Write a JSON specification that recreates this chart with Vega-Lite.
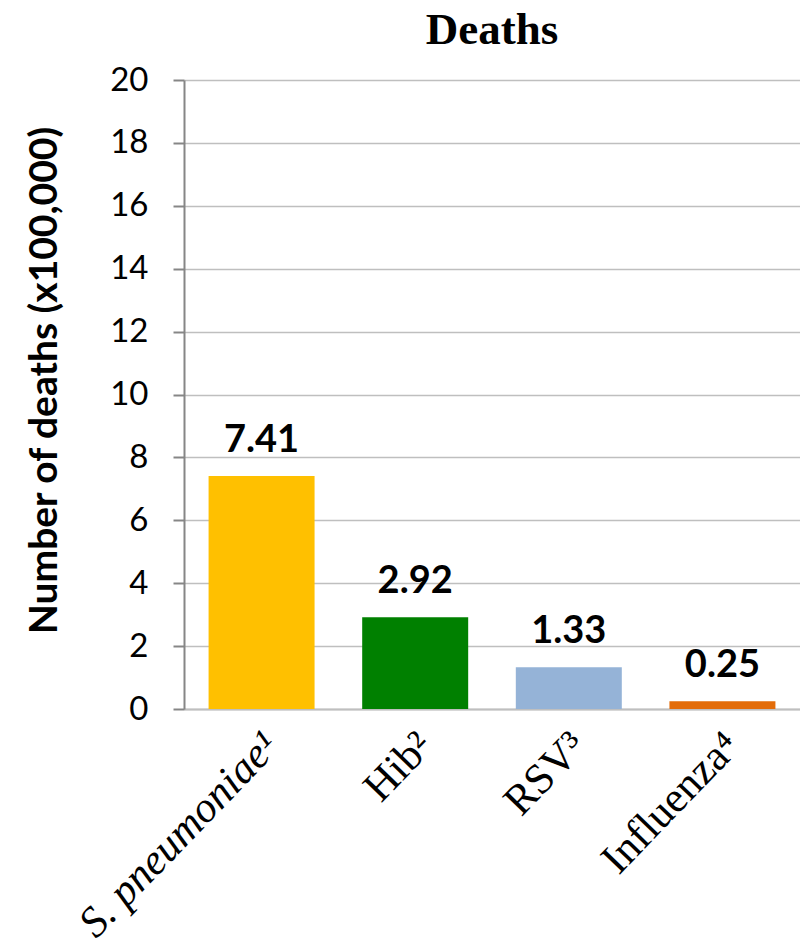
{
  "$schema": "https://vega.github.io/schema/vega-lite/v6.json",
  "autosize": {"type": "none"},
  "padding": {"left": 184, "top": 80, "right": 0, "bottom": 237},
  "width": 616,
  "height": 629,
  "background": "white",
  "title": {
    "text": "Deaths",
    "font": "Liberation Serif",
    "fontSize": 45,
    "fontWeight": "bold",
    "color": "black",
    "anchor": "middle",
    "offset": 11
  },
  "data": {
    "values": [
      {"pathogen": "S. pneumoniae¹", "deaths": 7.41, "label": "7.41"},
      {"pathogen": "Hib²", "deaths": 2.92, "label": "2.92"},
      {"pathogen": "RSV³", "deaths": 1.33, "label": "1.33"},
      {"pathogen": "Influenza⁴", "deaths": 0.25, "label": "0.25"}
    ]
  },
  "encoding": {
    "x": {
      "field": "pathogen",
      "type": "nominal",
      "sort": null,
      "scale": {"paddingInner": 0.31, "paddingOuter": 0.16},
      "axis": {
        "title": null,
        "labelAngle": -46,
        "labelAlign": "right",
        "labelBaseline": "top",
        "labelFont": "Liberation Serif",
        "labelFontSize": 43,
        "labelColor": "black",
        "labelFontStyle": {"condition": {"test": "datum.value == 'S. pneumoniae¹'", "value": "italic"}, "value": "normal"},
        "labelPadding": 15,
        "labelOffset": -5,
        "ticks": false,
        "domainColor": "#BFBFBF",
        "domainWidth": 2,
        "labelLimit": 0
      }
    },
    "y": {
      "field": "deaths",
      "type": "quantitative",
      "scale": {"domain": [0, 20], "nice": false},
      "axis": {
        "title": "Number of deaths (x100,000)",
        "titleFont": "Lato",
        "titleFontSize": 39,
        "titleFontWeight": "bold",
        "titleColor": "black",
        "titleAngle": -90,
        "titleX": -140,
        "titleY": 300,
        "titleAlign": "center",
        "titleBaseline": "middle",
        "values": [0, 2, 4, 6, 8, 10, 12, 14, 16, 18, 20],
        "labelFont": "Lato",
        "labelFontSize": 33,
        "labelColor": "black",
        "labelPadding": 25,
        "tickSize": 11,
        "tickColor": "#868686",
        "tickWidth": 2,
        "domainColor": "#868686",
        "domainWidth": 2,
        "grid": true,
        "gridColor": "#BFBFBF",
        "gridWidth": 1.5
      }
    }
  },
  "layer": [
    {
      "mark": {"type": "bar"},
      "encoding": {
        "color": {
          "field": "pathogen",
          "type": "nominal",
          "sort": null,
          "scale": {
            "domain": ["S. pneumoniae¹", "Hib²", "RSV³", "Influenza⁴"],
            "range": ["#FFC000", "#008000", "#95B3D7", "#E36C09"]
          },
          "legend": null
        }
      }
    },
    {
      "mark": {
        "type": "text",
        "font": "Lato",
        "fontSize": 38,
        "fontWeight": "bold",
        "color": "black",
        "baseline": "alphabetic",
        "dy": -24
      },
      "encoding": {
        "text": {"field": "label"}
      }
    }
  ],
  "config": {
    "view": {"stroke": null}
  }
}
